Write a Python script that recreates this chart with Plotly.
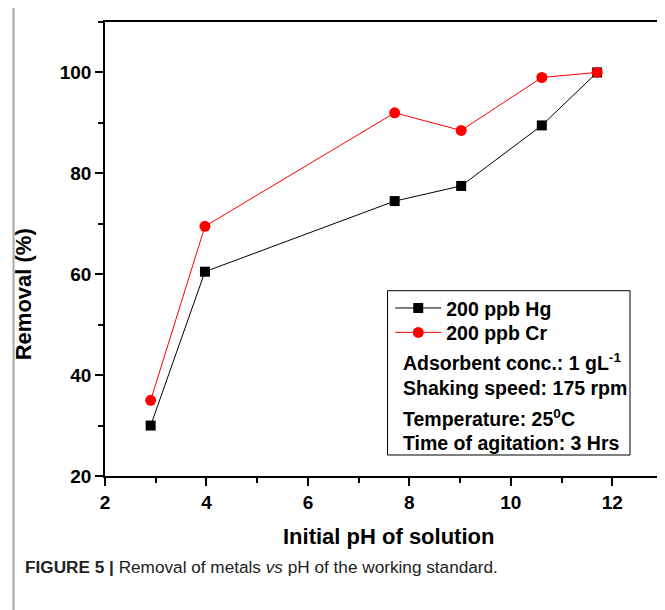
import plotly.graph_objects as go

# ---- data ----
ph = [2.9, 3.97, 7.71, 9.02, 10.61, 11.7]
hg_removal = [30, 60.5, 74.5, 77.5, 89.5, 100]
cr_removal = [35, 69.5, 92, 88.5, 99, 100]

x_ticks = [2, 4, 6, 8, 10, 12]
y_ticks = [20, 40, 60, 80, 100]

series_names = ["200 ppb Hg", "200 ppb Cr"]
info_lines = [
    "Adsorbent conc.: 1 gL<sup>-1</sup>",
    "Shaking speed: 175 rpm",
    "Temperature: 25<sup>0</sup>C",
    "Time of agitation: 3 Hrs",
]
x_title = "Initial pH of solution"
y_title = "Removal (%)"
caption = "<b>FIGURE 5 |</b> Removal of metals <i>vs</i> pH of the working standard."

FONT = "Liberation Sans, Arial, Helvetica, sans-serif"

# page has an 8px body margin; positions below are in screen pixels
OFF = 8
W, H = 665, 610
ML, MR, MT, MB = 104.5 - OFF, 15, 22 - OFF, 142
PW = W - ML - MR
PH = H - MT - MB


def px(s):
    return (s - OFF - ML) / PW


def py(s):
    return (H - MB - (s - OFF)) / PH


fig = go.Figure()
fig.add_trace(go.Scatter(
    x=ph, y=hg_removal, name=series_names[0], mode="lines+markers",
    line=dict(color="black", width=1),
    marker=dict(symbol="square", size=10, color="black"),
    legend="legend",
))
fig.add_trace(go.Scatter(
    x=ph, y=cr_removal, name=series_names[1], mode="lines+markers",
    line=dict(color="#ff0000", width=1),
    marker=dict(symbol="circle", size=11, color="#ff0000"),
    legend="legend2",
))

axis_common = dict(
    showgrid=False, zeroline=False, showline=True, linecolor="black",
    linewidth=1.5, mirror=True, ticks="outside", ticklen=8, tickwidth=1.5,
    tickcolor="black",
    tickfont=dict(family=FONT, size=19, color="black", weight="bold"),
)

fig.update_xaxes(
    range=[2, 12.9], tickmode="array", tickvals=x_ticks,
    ticktext=[str(v) for v in x_ticks],
    minor=dict(ticks="outside", ticklen=5, tickwidth=1.5, tickcolor="black", dtick=1, tick0=2),
    **axis_common,
)
fig.update_yaxes(
    range=[20, 110], tickmode="array", tickvals=y_ticks,
    ticktext=[str(v) for v in y_ticks],
    minor=dict(ticks="outside", ticklen=5, tickwidth=1.5, tickcolor="black", dtick=10, tick0=10),
    **axis_common,
)

annotations = [
    dict(text=x_title, x=px(388.7), y=py(536.7), xref="paper", yref="paper",
         xanchor="center", yanchor="middle", showarrow=False,
         font=dict(family=FONT, size=22, color="black", weight="bold")),
    dict(text=y_title, x=px(22.7), y=py(294), xref="paper", yref="paper",
         xanchor="center", yanchor="middle", showarrow=False, textangle=-90,
         font=dict(family=FONT, size=22, color="black", weight="bold")),
    dict(text=caption, x=px(22), y=py(567), xref="paper", yref="paper",
         xanchor="left", yanchor="middle", showarrow=False,
         font=dict(family=FONT, size=17.2, color="#222222")),
]
line_ys = [361.7, 388.3, 417.7, 443.3]
for txt, yy in zip(info_lines, line_ys):
    annotations.append(dict(
        text=txt, x=px(400.7), y=py(yy), xref="paper", yref="paper",
        xanchor="left", yanchor="middle", showarrow=False,
        font=dict(family=FONT, size=19.5, color="black", weight="bold")))

shapes = [
    # legend / info box
    dict(type="rect", xref="paper", yref="paper",
         x0=px(387.3), x1=px(630), y0=py(455), y1=py(290.7),
         line=dict(color="black", width=1)),
    # outer gray frame (left, top, right)
    dict(type="line", xref="paper", yref="paper", x0=px(13), x1=px(13),
         y0=py(H + 20), y1=py(7), line=dict(color="#a8a8a8", width=2)),
    dict(type="line", xref="paper", yref="paper", x0=px(13), x1=px(663),
         y0=py(7), y1=py(7), line=dict(color="#a8a8a8", width=2)),
    dict(type="line", xref="paper", yref="paper", x0=px(663), x1=px(663),
         y0=py(H + 20), y1=py(7), line=dict(color="#a8a8a8", width=2)),
]

legend_style = dict(
    xanchor="left", yanchor="middle",
    bgcolor="rgba(0,0,0,0)", borderwidth=0,
    font=dict(family=FONT, size=19.5, color="black", weight="bold"),
    itemwidth=46,
)

fig.update_layout(
    width=W, height=H,
    margin=dict(l=ML, r=MR, t=MT, b=MB, pad=0),
    paper_bgcolor="white", plot_bgcolor="white",
    showlegend=True,
    legend=dict(x=px(390), y=py(308.3), **legend_style),
    legend2=dict(x=px(390), y=py(332.7), **legend_style),
    annotations=annotations,
    shapes=shapes,
)

fig.write_html("out.html")
